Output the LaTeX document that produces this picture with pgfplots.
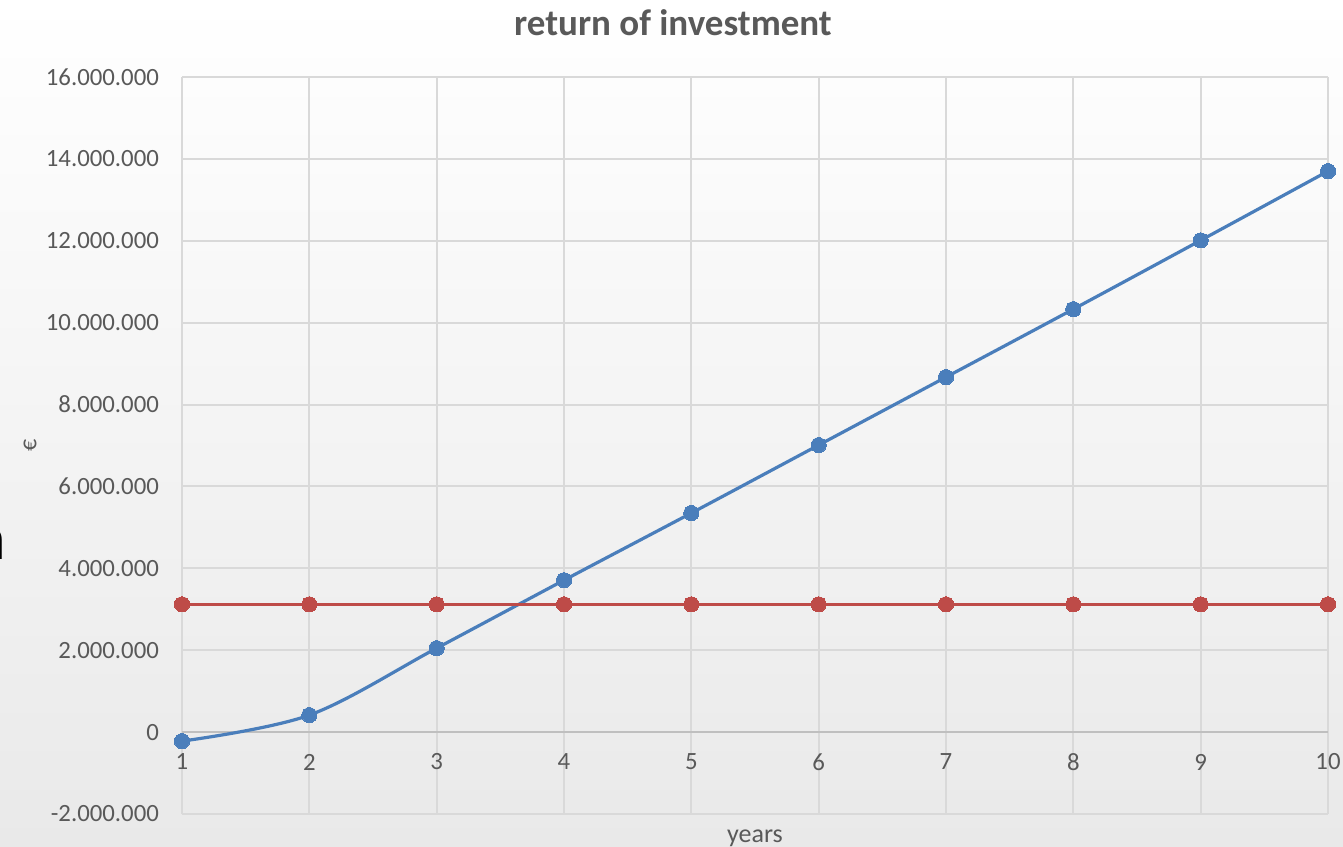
\documentclass[border=0pt]{standalone}
\usepackage{pgfplots}
\pgfplotsset{compat=1.18}
\usepackage{fontspec}
\setmainfont{Carlito}
\definecolor{tickgray}{HTML}{595959}
\definecolor{gridgray}{HTML}{D9D9D9}
\definecolor{zerogray}{HTML}{BFBFBF}
\definecolor{blueline}{HTML}{4A7EBB}
\definecolor{redline}{HTML}{BE4B48}
\definecolor{bgbottom}{HTML}{E9E9E9}
\begin{document}
\begin{tikzpicture}
\path[use as bounding box] (0,0) rectangle (671.5bp,423.5bp);
\shade[top color=white, bottom color=bgbottom] (0,0) rectangle (671.5bp,423.5bp);
\node[anchor=base east, inner sep=0pt, font=\fontsize{32bp}{36bp}\selectfont] at (3.5bp,143.5bp) {n};
\node[font=\fontsize{18.5bp}{20bp}\selectfont\bfseries, text=tickgray] at (336.5bp,412bp) {return of investment};
\begin{axis}[
  at={(91bp,16.5bp)}, anchor=south west,
  scale only axis, width=573bp, height=368.5bp,
  xmin=1, xmax=10, ymin=-2000000, ymax=16000000,
  xtick={1,2,3,4,5,6,7,8,9,10},
  ytick={-2000000,0,2000000,4000000,6000000,8000000,10000000,12000000,14000000,16000000},
  extra y ticks={0}, extra y tick labels={},
  extra y tick style={grid style={zerogray, line width=1bp}},
  grid=major, grid style={gridgray, line width=1bp},
  axis line style={draw=none},
  major tick length=0pt,
  tick label style={font=\fontsize{12.4bp}{14bp}\selectfont, text=tickgray},
  /pgf/number format/assume math mode=true,
  /pgf/number format/fixed,
  /pgf/number format/precision=0,
  /pgf/number format/1000 sep={.},
  scaled y ticks=false,
  xticklabel style={anchor=center, yshift=26bp},
  yticklabel style={anchor=east, xshift=-8bp},
  xlabel={years}, ylabel={€},
  xlabel style={at={(axis description cs:0.5,0)}, anchor=center, yshift=-12bp, font=\fontsize{13bp}{15bp}\selectfont, text=tickgray},
  ylabel style={at={(axis description cs:-0.1326,0.5)}, anchor=center, font=\fontsize{12bp}{14bp}\selectfont, text=tickgray},
  clip=false,
]
\addplot[color=blueline, line width=1.6bp, smooth, tension=0.55, mark=*, mark size=3.8bp, mark options={fill=blueline, draw=blueline, line width=0pt}]
  coordinates {(1,-220000) (2,415000) (3,2050000) (4,3710000) (5,5350000) (6,7010000) (7,8670000) (8,10330000) (9,12010000) (10,13700000)};
\addplot[color=redline, line width=1.6bp, mark=*, mark size=3.8bp, mark options={fill=redline, draw=redline, line width=0pt}]
  coordinates {(1,3120000) (2,3120000) (3,3120000) (4,3120000) (5,3120000) (6,3120000) (7,3120000) (8,3120000) (9,3120000) (10,3120000)};
\end{axis}
\end{tikzpicture}
\end{document}
